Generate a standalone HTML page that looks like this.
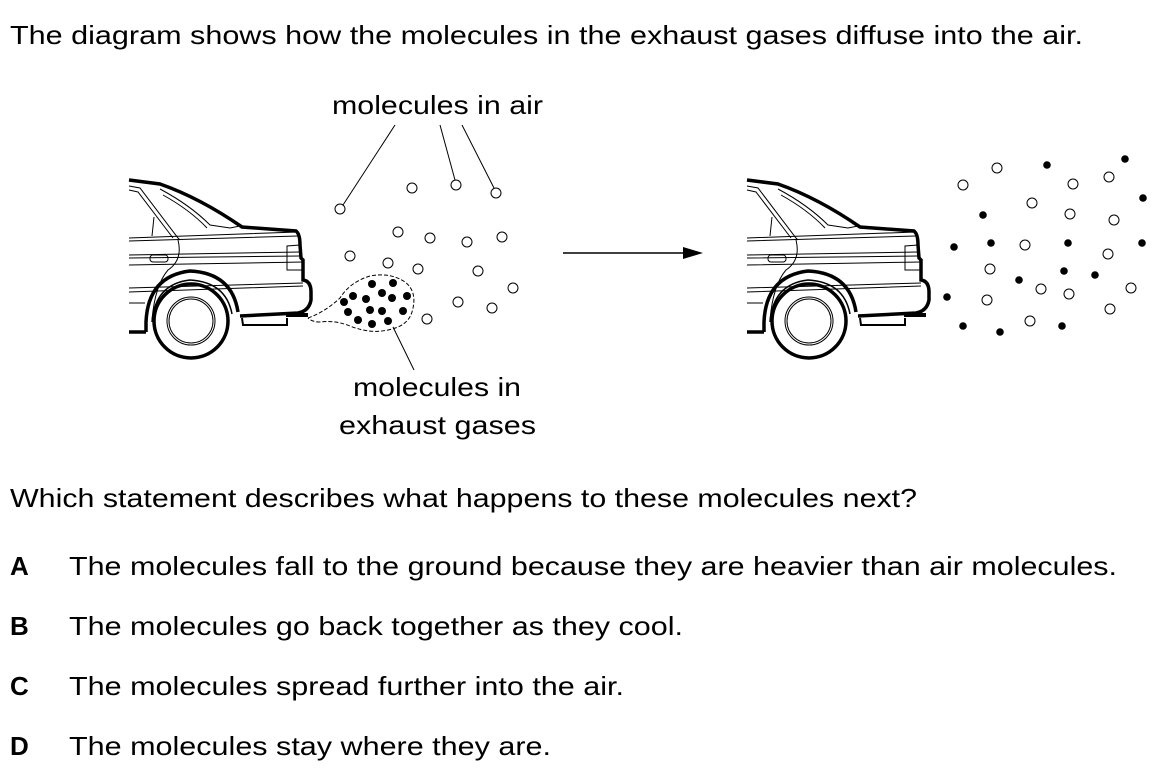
<!DOCTYPE html>
<html><head><meta charset="utf-8"><style>
html,body{margin:0;padding:0;background:#fff;}
svg{display:block;}
text{font-family:"Liberation Sans",Arial,sans-serif;font-size:26px;fill:#000;}
</style></head><body>
<svg width="1173" height="768" viewBox="0 0 1173 768" xmlns="http://www.w3.org/2000/svg">
<defs>
<g id="car" fill="none" stroke="#000">
  <path d="M129,180 L160,184 Q200,198 242,227 L296,231 Q300,234 300,245 L301,258 L303,260 L303,280 Q311,281 311,292 L311,300 Q309,311 298,313 L240,316" stroke-width="3.5"/>
  <path d="M146,332 L146,322 Q148,276 190,271 Q232,273 238,312" stroke-width="3.5"/>
  <path d="M152,322 Q155,284 190,280 Q226,282 232,314" stroke-width="1.5"/>
  <path d="M129,332 L146,332" stroke-width="3.5"/>
  <circle cx="191" cy="321" r="37" stroke-width="3.5"/>
  <circle cx="191" cy="321" r="24" stroke-width="1"/>
  <circle cx="191" cy="321" r="22" stroke-width="1"/>
  <path d="M286,315 L308,315" stroke-width="4"/>
  <path d="M242,318 L243,325 L287,325 L287,318" stroke-width="2"/>
  <path d="M129,186 L140,188 L178,238 L180,240 M129,190 L138,192 L173,238" stroke-width="1"/>
  <path d="M160,189 Q190,205 210,225 L230,228 L240,226 M163,195 Q190,210 207,228" stroke-width="1"/>
  <path d="M154,217 L152,236" stroke-width="1"/>
  <path d="M129,238 L298,232 M129,241 L298,236 M129,255 L300,252 M129,258 L300,256 M129,265 L303,262 M129,288 L303,283 M129,292 L303,286 M129,303 L145,303" stroke-width="1"/>
  <path d="M178,240 Q183,260 168,270 Q155,285 152,320" stroke-width="1"/>
  <rect x="150" y="255" width="18" height="7" rx="3" stroke-width="1"/>
  <path d="M300,245 L287,246 L287,270 L303,270" stroke-width="1"/>
</g>
</defs>
<text x="10" y="44" textLength="1073" lengthAdjust="spacingAndGlyphs">The diagram shows how the molecules in the exhaust gases diffuse into the air.</text>
<text x="332" y="114" textLength="211" lengthAdjust="spacingAndGlyphs">molecules in air</text>
<text x="353" y="396" textLength="168" lengthAdjust="spacingAndGlyphs">molecules in</text>
<text x="339" y="434" textLength="197" lengthAdjust="spacingAndGlyphs">exhaust gases</text>
<text x="10" y="507" textLength="907" lengthAdjust="spacingAndGlyphs">Which statement describes what happens to these molecules next?</text>
<text x="10" y="575" font-weight="bold">A</text>
<text x="69" y="575" textLength="1048" lengthAdjust="spacingAndGlyphs">The molecules fall to the ground because they are heavier than air molecules.</text>
<text x="10" y="635" font-weight="bold">B</text>
<text x="69" y="635" textLength="614" lengthAdjust="spacingAndGlyphs">The molecules go back together as they cool.</text>
<text x="10" y="695" font-weight="bold">C</text>
<text x="69" y="695" textLength="555" lengthAdjust="spacingAndGlyphs">The molecules spread further into the air.</text>
<text x="10" y="755" font-weight="bold">D</text>
<text x="69" y="755" textLength="482" lengthAdjust="spacingAndGlyphs">The molecules stay where they are.</text>

<use href="#car"/>
<use href="#car" transform="translate(618,0)"/>

<g stroke="#000" stroke-width="1" fill="none">
  <path d="M395,125 L343,205 M440,125 L455,180 M462,125 L494,188 M393,327 L414,370"/>
  <path d="M308,318 Q325,312 340,298 Q350,282 370,276 Q390,272 405,282 Q418,292 412,312 Q408,326 388,330 Q370,334 350,326 Q335,320 320,322 Q312,322 308,318" stroke-dasharray="4,2"/>
  <path d="M563,253 L690,253" stroke-width="1.5"/>
</g>
<path d="M703,253 L683,247 L683,259 Z" fill="#000"/>

<g fill="#fff" stroke="#000" stroke-width="1">
  <circle cx="340" cy="209" r="5"/><circle cx="412" cy="188" r="5"/><circle cx="456" cy="185" r="5"/><circle cx="496" cy="193" r="5"/>
  <circle cx="398" cy="232" r="5"/><circle cx="430" cy="238" r="5"/><circle cx="467" cy="242" r="5"/><circle cx="502" cy="237" r="5"/>
  <circle cx="350" cy="256" r="5"/><circle cx="388" cy="263" r="5"/><circle cx="418" cy="269" r="5"/><circle cx="478" cy="271" r="5"/>
  <circle cx="513" cy="288" r="5"/><circle cx="458" cy="302" r="5"/><circle cx="492" cy="308" r="5"/><circle cx="427" cy="319" r="5"/>
  <circle cx="997" cy="168" r="5"/><circle cx="963" cy="185" r="5"/><circle cx="1073" cy="184" r="5"/><circle cx="1109" cy="177" r="5"/>
  <circle cx="1032" cy="203" r="5"/><circle cx="1070" cy="214" r="5"/><circle cx="1114" cy="220" r="5"/><circle cx="1025" cy="245" r="5"/>
  <circle cx="1108" cy="254" r="5"/><circle cx="990" cy="269" r="5"/><circle cx="1041" cy="289" r="5"/><circle cx="1069" cy="294" r="5"/>
  <circle cx="1131" cy="288" r="5"/><circle cx="987" cy="300" r="5"/><circle cx="1110" cy="309" r="5"/><circle cx="1030" cy="321" r="5"/>
</g>
<g fill="#000">
  <circle cx="372" cy="284" r="4"/><circle cx="393" cy="283" r="4"/><circle cx="353" cy="296" r="4"/><circle cx="382" cy="293" r="4"/>
  <circle cx="366" cy="299" r="4"/><circle cx="392" cy="298" r="4"/><circle cx="407" cy="296" r="4"/><circle cx="344" cy="302" r="4"/>
  <circle cx="348" cy="312" r="4"/><circle cx="370" cy="310" r="4"/><circle cx="382" cy="311" r="4"/><circle cx="403" cy="311" r="4"/>
  <circle cx="358" cy="320" r="4"/><circle cx="372" cy="324" r="4"/><circle cx="388" cy="321" r="4"/>
  <circle cx="1047" cy="165" r="3.8"/><circle cx="1125" cy="159" r="3.8"/><circle cx="1143" cy="198" r="3.8"/><circle cx="983" cy="215" r="3.8"/>
  <circle cx="991" cy="243" r="3.8"/><circle cx="954" cy="247" r="3.8"/><circle cx="1068" cy="243" r="3.8"/><circle cx="1142" cy="243" r="3.8"/>
  <circle cx="1064" cy="271" r="3.8"/><circle cx="1019" cy="280" r="3.8"/><circle cx="1095" cy="275" r="3.8"/><circle cx="947" cy="297" r="3.8"/>
  <circle cx="963" cy="326" r="3.8"/><circle cx="1000" cy="332" r="3.8"/><circle cx="1062" cy="326" r="3.8"/>
</g>
</svg>
</body></html>
